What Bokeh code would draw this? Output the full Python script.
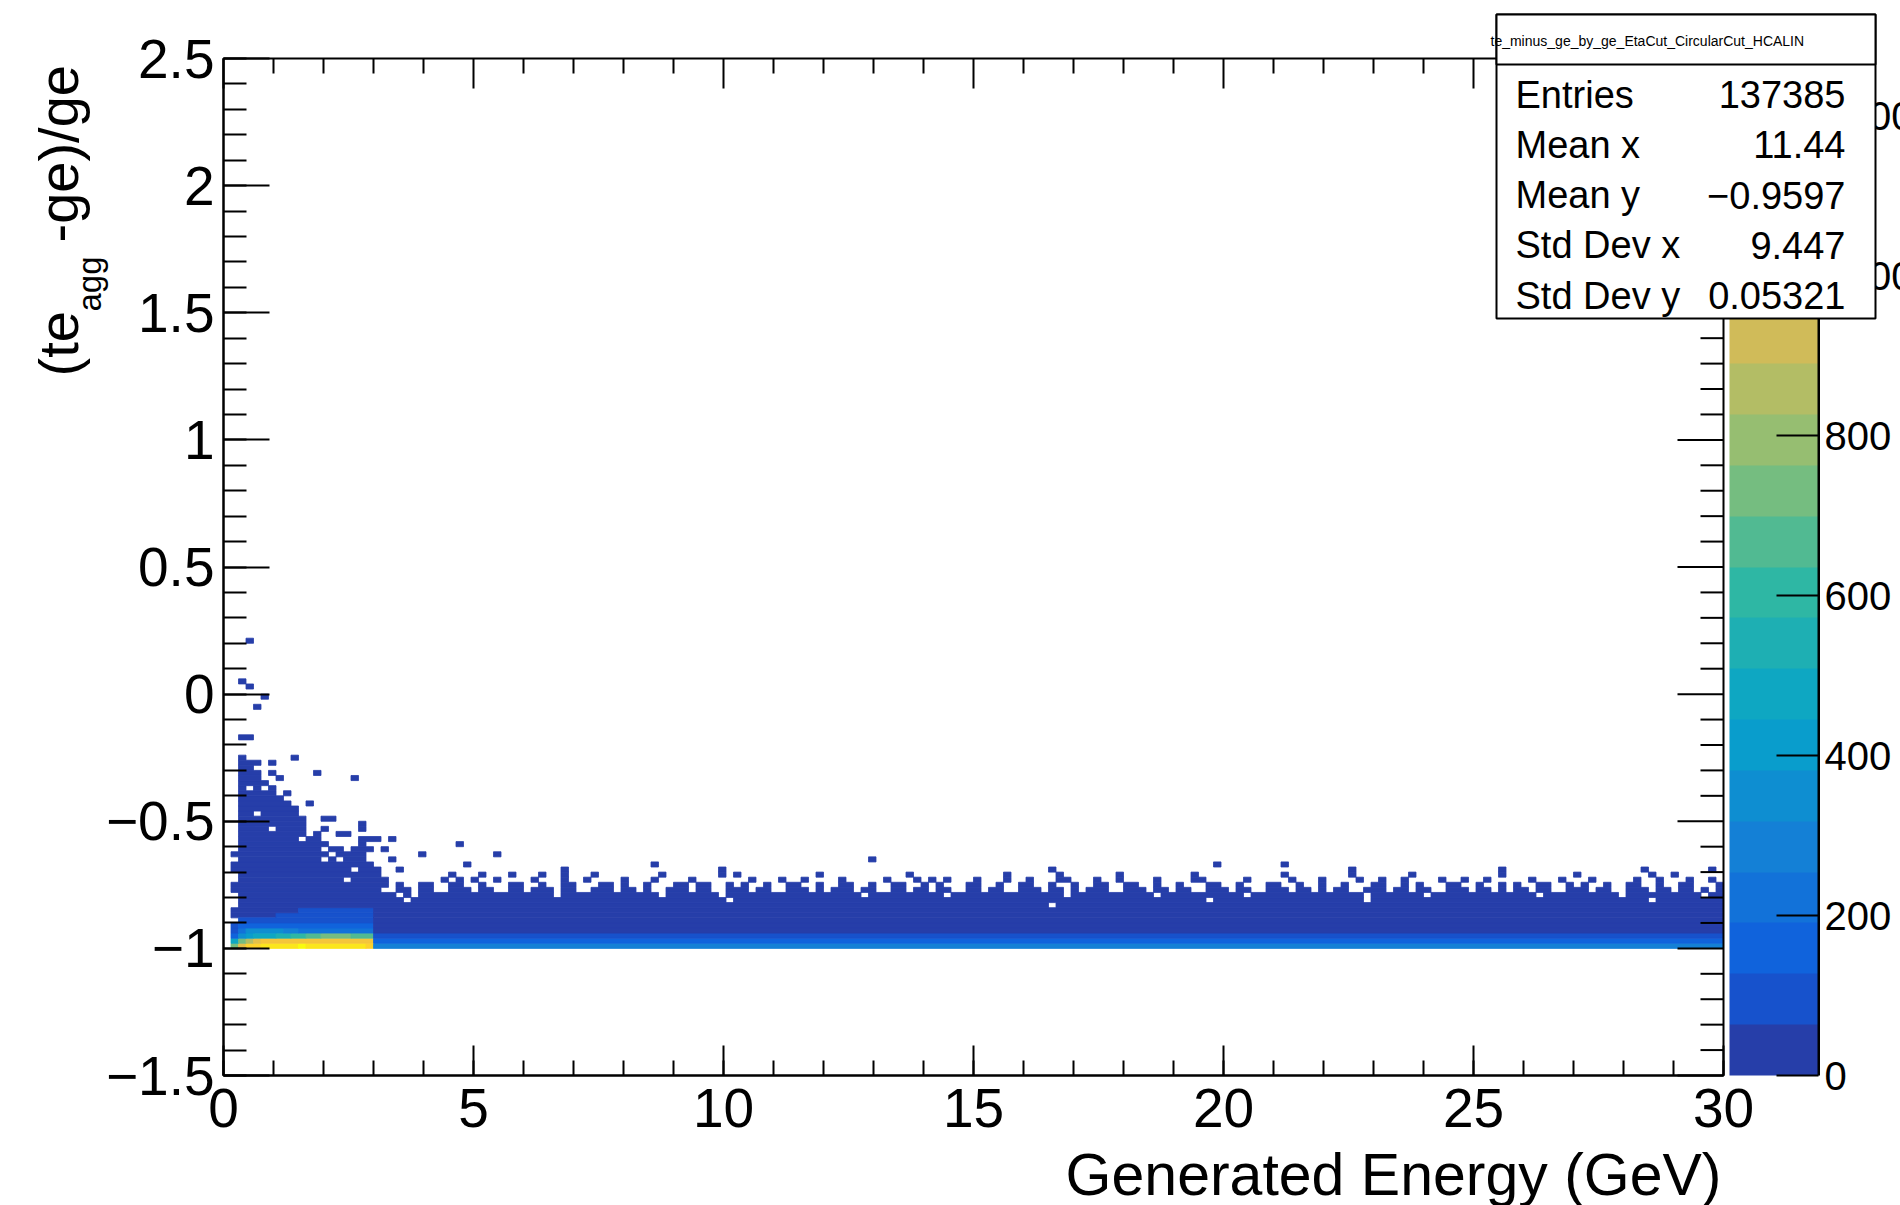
import numpy as np
from bokeh.plotting import figure
from bokeh.models import (LinearColorMapper, ColorBar, FixedTicker, LinearAxis, Label,
                          BoxAnnotation, Range1d, CustomJSTickFormatter, ColumnDataSource)
from bokeh.transform import linear_cmap
from bokeh.embed import file_html
from bokeh.resources import INLINE

# ---------------------------------------------------------------- data
# TH2 binning (x: 200 bins 0..30 GeV, y: 200 bins -1.5..2.5)
X_MIN, X_MAX, NX = 0.0, 30.0, 200
Y_MIN, Y_MAX, NY = -1.5, 2.5, 200
Z_MAX = 1272.0
N_CONTOURS = 20

x_major_ticks = [0, 5, 10, 15, 20, 25, 30]
x_minor_ticks = list(range(0, 31))
y_major_ticks = [-1.5, -1.0, -0.5, 0.0, 0.5, 1.0, 1.5, 2.0, 2.5]
y_minor_ticks = [round(-1.5 + 0.1 * k, 1) for k in range(41)]
z_ticks = [0, 200, 400, 600, 800, 1000, 1200]

# ---- 0-3 GeV part (x bins 0..19)
low_top = [None, -0.62, -0.24, -0.26, -0.30, -0.34, -0.36, -0.38, -0.42, -0.44,
           -0.48, -0.54, -0.54, -0.58, -0.60, -0.60, -0.62, -0.60, -0.56, -0.66]
low_body_count = 20
low_core_rows = [-1.00, -0.98, -0.96, -0.94, -0.92, -0.90, -0.88, -0.86]
low_core_counts = [
    [0, 760, 1000, 1090, 1130, 1150, 1160, 1165, 1170, 1175, 1272, 1175, 1170, 1165, 1160, 1160, 1155, 1150, 1145, 1140],
    [0, 450, 700, 850, 960, 1030, 1050, 1060, 1070, 1080, 1080, 1080, 1075, 1070, 1070, 1065, 1060, 1060, 1055, 1050],
    [0, 170, 320, 440, 480, 490, 500, 520, 560, 590, 620, 650, 680, 700, 700, 700, 700, 690, 680, 670],
    [0, 100, 230, 330, 340, 340, 330, 320, 300, 260, 220, 200, 200, 200, 200, 200, 200, 200, 200, 200],
    [0, 70, 140, 140, 140, 140, 140, 140, 140, 140, 130, 130, 130, 130, 130, 130, 130, 130, 130, 130],
    [0, 40, 80, 80, 80, 80, 80, 80, 80, 80, 80, 80, 80, 80, 80, 80, 80, 80, 80, 80],
    [0, 30, 45, 45, 45, 45, 45, 70, 70, 70, 70, 70, 70, 70, 70, 70, 70, 70, 70, 70],
    [0, 30, 40, 40, 40, 40, 40, 40, 40, 40, 66, 66, 66, 66, 66, 66, 66, 66, 66, 66],
]
low_holes = [(1, -0.66), (1, -0.72), (1, -0.74), (1, -0.80), (1, -0.82), (1, -0.84), (1, -0.90),
             (3, -0.38), (5, -0.38), (4, -0.48), (6, -0.54), (7, -0.40), (10, -0.58), (11, -0.56),
             (13, -0.62), (13, -0.66), (14, -0.64), (15, -0.66), (17, -0.70), (16, -0.74)]
low_isolated = [(3, 0.20), (2, 0.04), (3, 0.02), (5, -0.02), (4, -0.06), (2, -0.18), (3, -0.18),
                (4, -0.28), (6, -0.28), (9, -0.26), (6, -0.32), (7, -0.34), (12, -0.32), (17, -0.34),
                (8, -0.40), (11, -0.44), (13, -0.50), (14, -0.50), (13, -0.54), (15, -0.56),
                (16, -0.56), (18, -0.52), (18, -0.54), (19, -0.58), (19, -0.62)]

# ---- 3-30 GeV part (x bins 20..199)
hi_first_col, hi_last_col = 20, 199
hi_body_count = 20
hi_body_top = -0.80
hi_core_rows = [-1.00, -0.98, -0.96, -0.94]
hi_core_counts = [280, 150, 100, 40]
hi_body_holes = [(24, -0.82), (67, -0.82), (131, -0.82), (152, -0.82), (190, -0.82), (110, -0.84)]
hi_row080_holes = [23, 25, 44, 58, 66, 85, 96, 112, 124, 136, 152, 160, 175, 186, 197]
hi_row078_holes = [21, 22, 25, 28, 29, 33, 36, 37, 40, 44, 47, 48, 52, 55, 57, 58, 62, 65, 66, 70,
                   73, 74, 78, 80, 84, 87, 88, 91, 94, 97, 98, 101, 104, 105, 109, 112, 114, 118,
                   119, 123, 126, 129, 130, 134, 137, 138, 142, 145, 147, 150, 151, 155, 158, 161,
                   162, 166, 169, 171, 174, 177, 178, 182, 185, 186, 190, 193, 196, 198]
hi_row076_cells = [20, 21, 23, 26, 27, 30, 31, 34, 38, 39, 42, 45, 46, 50, 51, 53, 56, 60, 61, 63,
                   64, 67, 69, 72, 75, 76, 79, 82, 83, 86, 89, 90, 93, 95, 99, 100, 103, 106, 107,
                   110, 113, 116, 117, 120, 121, 124, 127, 131, 132, 135, 139, 140, 143, 146, 149,
                   153, 154, 157, 159, 163, 164, 167, 170, 172, 175, 176, 179, 181, 184, 187, 188,
                   191, 194, 195, 199]
hi_row074_cells = [20, 21, 29, 31, 33, 36, 41, 45, 48, 53, 57, 62, 70, 74, 77, 82, 88, 92, 94, 96,
                   100, 104, 107, 111, 112, 116, 119, 124, 129, 130, 136, 142, 146, 151, 154, 157,
                   162, 165, 168, 174, 178, 182, 188, 191, 195, 198]
hi_row072_cells = [20, 30, 34, 38, 42, 45, 49, 58, 66, 68, 79, 91, 104, 111, 119, 129, 141, 150,
                   158, 170, 180, 190, 193]
hi_outliers = [(20, -0.58), (22, -0.58), (31, -0.60), (21, -0.62), (26, -0.64), (36, -0.64),
               (22, -0.66), (86, -0.66), (32, -0.68), (57, -0.68), (132, -0.68), (141, -0.68),
               (20, -0.70), (23, -0.70), (45, -0.70), (66, -0.70), (110, -0.70), (150, -0.70),
               (170, -0.70), (189, -0.70), (198, -0.70)]

# ---- texts
x_title = "Generated Energy (GeV)"
y_title_parts = ["(te", "agg", "-ge)/ge"]
stats_title = "te_minus_ge_by_ge_EtaCut_CircularCut_HCALIN"
stats_names = ["Entries", "Mean x", "Mean y", "Std Dev x", "Std Dev y"]
stats_values = ["137385", "11.44", "\u22120.9597", "9.447", "0.05321"]

# ---------------------------------------------------------------- palette (ROOT kBird)
bird_stops = [0.0, 0.125, 0.25, 0.375, 0.5, 0.625, 0.75, 0.875, 1.0]
bird_r = [0.2082, 0.0592, 0.0780, 0.0232, 0.1802, 0.5301, 0.8186, 0.9956, 0.9764]
bird_g = [0.1664, 0.3599, 0.5041, 0.6419, 0.7178, 0.7492, 0.7328, 0.7862, 0.9832]
bird_b = [0.5293, 0.8684, 0.8385, 0.7914, 0.6425, 0.4662, 0.3499, 0.1968, 0.0539]
palette = []
for i in range(N_CONTOURS):
    f = (i + 0.99) / N_CONTOURS
    rgb = [int(round(255 * np.interp(f, bird_stops, ch))) for ch in (bird_r, bird_g, bird_b)]
    palette.append("#%02x%02x%02x" % tuple(rgb))

# ---------------------------------------------------------------- build cells
DX = (X_MAX - X_MIN) / NX
DY = (Y_MAX - Y_MIN) / NY


def row_of(v):
    return int(round((v - Y_MIN) / DY))


cells = {}
for c, top in enumerate(low_top):
    if top is None:
        continue
    for r in range(row_of(-1.0), row_of(top)):
        cells[(c, r)] = low_body_count
for k, v in enumerate(low_core_rows):
    for c, n in enumerate(low_core_counts[k]):
        if n > 0:
            cells[(c, row_of(v))] = n
for c, v in low_holes:
    cells.pop((c, row_of(v)), None)
for c, v in low_isolated:
    cells[(c, row_of(v))] = 2

for c in range(hi_first_col, hi_last_col + 1):
    for r in range(row_of(-1.0), row_of(hi_body_top)):
        cells[(c, r)] = hi_body_count
    for k, v in enumerate(hi_core_rows):
        cells[(c, row_of(v))] = hi_core_counts[k]
    if c not in hi_row080_holes:
        cells[(c, row_of(-0.80))] = 8
    if c not in hi_row078_holes:
        cells[(c, row_of(-0.78))] = 4
for c, v in hi_body_holes:
    cells.pop((c, row_of(v)), None)
for c in hi_row076_cells:
    cells[(c, row_of(-0.76))] = 2
for c in hi_row074_cells:
    cells[(c, row_of(-0.74))] = 1
for c in hi_row072_cells:
    cells[(c, row_of(-0.72))] = 1
for c, v in hi_outliers:
    cells[(c, row_of(v))] = 1


def cidx(n):
    return min(int(n / Z_MAX * N_CONTOURS), N_CONTOURS - 1)


L, R, B, T, N = [], [], [], [], []
by_row = {}
for (c, r), n in cells.items():
    by_row.setdefault(r, []).append((c, n))
for r, lst in by_row.items():
    lst.sort()
    s, prev, val = lst[0][0], lst[0][0], lst[0][1]
    runs = []
    for c, n in lst[1:]:
        if c == prev + 1 and cidx(n) == cidx(val):
            prev = c
            continue
        runs.append((s, prev, val))
        s, prev, val = c, c, n
    runs.append((s, prev, val))
    for s, e, n in runs:
        L.append(X_MIN + s * DX)
        R.append(X_MIN + (e + 1) * DX)
        B.append(Y_MIN + r * DY)
        T.append(Y_MIN + (r + 1) * DY)
        N.append(n)

src = ColumnDataSource(dict(left=L, right=R, bottom=B, top=T, count=N))

# ---------------------------------------------------------------- layout (pixels)
W, H = 1900, 1205
FRAME_L, FRAME_R, FRAME_T, FRAME_B = 223, 1723, 58, 1075
FONT = "Liberation Sans"
PX_X = (X_MAX - X_MIN) / (FRAME_R - FRAME_L)   # data per pixel
PX_Y = (Y_MAX - Y_MIN) / (FRAME_B - FRAME_T)


def xd(px):
    return X_MIN + (px - FRAME_L) * PX_X


def yd(py):
    return Y_MAX - (py - FRAME_T) * PX_Y


# the plotting area covers the whole canvas; the histogram frame is drawn with
# axes pinned at the histogram edges
p = figure(width=W, height=H, output_backend="svg", toolbar_location=None,
           x_range=Range1d(xd(0), xd(W)), y_range=Range1d(yd(H), yd(0)),
           x_axis_type=None, y_axis_type=None,
           min_border_left=0, min_border_right=0, min_border_top=0, min_border_bottom=0)
p.grid.visible = False
p.background_fill_color = "white"
p.border_fill_color = "white"
p.outline_line_color = None

cmap = linear_cmap("count", palette, 0, Z_MAX)
p.quad(left="left", right="right", bottom="bottom", top="top", source=src,
       fill_color=cmap, line_color=cmap, line_width=0.8)

fmt = CustomJSTickFormatter(code="return tick < 0 ? '\\u2212' + Math.abs(tick) : String(Math.abs(tick));")


def style_axis(ax, major_in, minor_in, standoff):
    ax.major_tick_in = major_in
    ax.major_tick_out = 0
    ax.minor_tick_in = minor_in
    ax.minor_tick_out = 0
    ax.major_tick_line_width = 2
    ax.minor_tick_line_width = 2
    ax.major_tick_line_color = "black"
    ax.minor_tick_line_color = "black"
    ax.axis_line_width = 2
    ax.axis_line_color = "black"
    ax.formatter = fmt
    ax.major_label_text_font = FONT
    ax.major_label_text_color = "black"
    ax.major_label_standoff = standoff
    ax.major_label_text_font_size = "55px"


xt = FixedTicker(ticks=x_major_ticks, minor_ticks=x_minor_ticks)
yt = FixedTicker(ticks=y_major_ticks, minor_ticks=y_minor_ticks)
xa = LinearAxis(ticker=xt, fixed_location=Y_MIN, bounds=(X_MIN, X_MAX))
style_axis(xa, 30, 15, 13)
p.add_layout(xa, "below")
ya = LinearAxis(ticker=yt, fixed_location=X_MIN, bounds=(Y_MIN, Y_MAX))
style_axis(ya, 46, 23, 9)
p.add_layout(ya, "left")

# frame box and mirrored ticks on the top and right edges
p.quad(left=[X_MIN], right=[X_MAX], bottom=[Y_MIN], top=[Y_MAX], fill_color=None,
       line_color="black", line_width=2)
tx0, tx1, ty0, ty1 = [], [], [], []
for t in x_minor_ticks:
    ln = 30 if t in x_major_ticks else 15
    tx0.append(t); tx1.append(t); ty0.append(Y_MAX); ty1.append(Y_MAX - ln * PX_Y)
for t in y_minor_ticks:
    ln = 46 if t in y_major_ticks else 23
    tx0.append(X_MAX); tx1.append(X_MAX - ln * PX_X); ty0.append(t); ty1.append(t)
p.segment(x0=tx0, y0=ty0, x1=tx1, y1=ty1, line_color="black", line_width=2)

# colour bar
mapper = LinearColorMapper(palette=palette, low=0, high=Z_MAX)
cb = ColorBar(color_mapper=mapper, ticker=FixedTicker(ticks=z_ticks),
              width=89, height=FRAME_B - FRAME_T, location=(1729, H - FRAME_B),
              padding=0, margin=0, major_tick_in=42, major_tick_out=0,
              major_tick_line_color="black", major_tick_line_width=2,
              minor_tick_line_color=None, bar_line_color=None, border_line_color=None,
              background_fill_alpha=0, label_standoff=6,
              major_label_text_font=FONT, major_label_text_font_size="40px",
              major_label_text_color="black")
p.add_layout(cb, "center")
p.add_layout(BoxAnnotation(left=xd(1817), right=xd(1819.5), top=yd(FRAME_T), bottom=yd(FRAME_B),
                           fill_color="black", fill_alpha=1, line_color=None, level="overlay"))

# axis titles
p.add_layout(Label(x=xd(1721), y=yd(1174), text=x_title, text_align="right",
                   text_baseline="middle", text_font=FONT, text_font_size="59px",
                   text_color="black"))
p.add_layout(Label(x=xd(58), y=yd(376), text=y_title_parts[0], angle=np.pi / 2,
                   text_align="left", text_baseline="middle", text_font=FONT,
                   text_font_size="56px", text_color="black"))
p.add_layout(Label(x=xd(89), y=yd(311), text=y_title_parts[1], angle=np.pi / 2,
                   text_align="left", text_baseline="middle", text_font=FONT,
                   text_font_size="33px", text_color="black"))
p.add_layout(Label(x=xd(58), y=yd(242), text=y_title_parts[2], angle=np.pi / 2,
                   text_align="left", text_baseline="middle", text_font=FONT,
                   text_font_size="56px", text_color="black"))

# stats box
p.add_layout(BoxAnnotation(left=xd(1496), right=xd(1875), top=yd(14), bottom=yd(318),
                           fill_color="white", fill_alpha=1, line_color="black",
                           line_alpha=1, line_width=2, level="overlay"))
p.add_layout(BoxAnnotation(left=xd(1496), right=xd(1875), top=yd(14), bottom=yd(64),
                           fill_color="white", fill_alpha=1, line_color="black",
                           line_alpha=1, line_width=2, level="overlay"))
p.add_layout(Label(x=xd(1490), y=yd(40), text=stats_title, text_align="left",
                   text_baseline="middle", text_font=FONT, text_font_size="14px",
                   text_color="black", level="overlay"))
for i, (nm, vl) in enumerate(zip(stats_names, stats_values)):
    cy = 94 + i * 50.3
    p.add_layout(Label(x=xd(1515), y=yd(cy), text=nm, text_align="left",
                       text_baseline="middle", text_font=FONT, text_font_size="38px",
                       text_color="black", level="overlay"))
    p.add_layout(Label(x=xd(1845), y=yd(cy), text=vl, text_align="right",
                       text_baseline="middle", text_font=FONT, text_font_size="38px",
                       text_color="black", level="overlay"))

open("out.html", "w").write(file_html(p, INLINE))
